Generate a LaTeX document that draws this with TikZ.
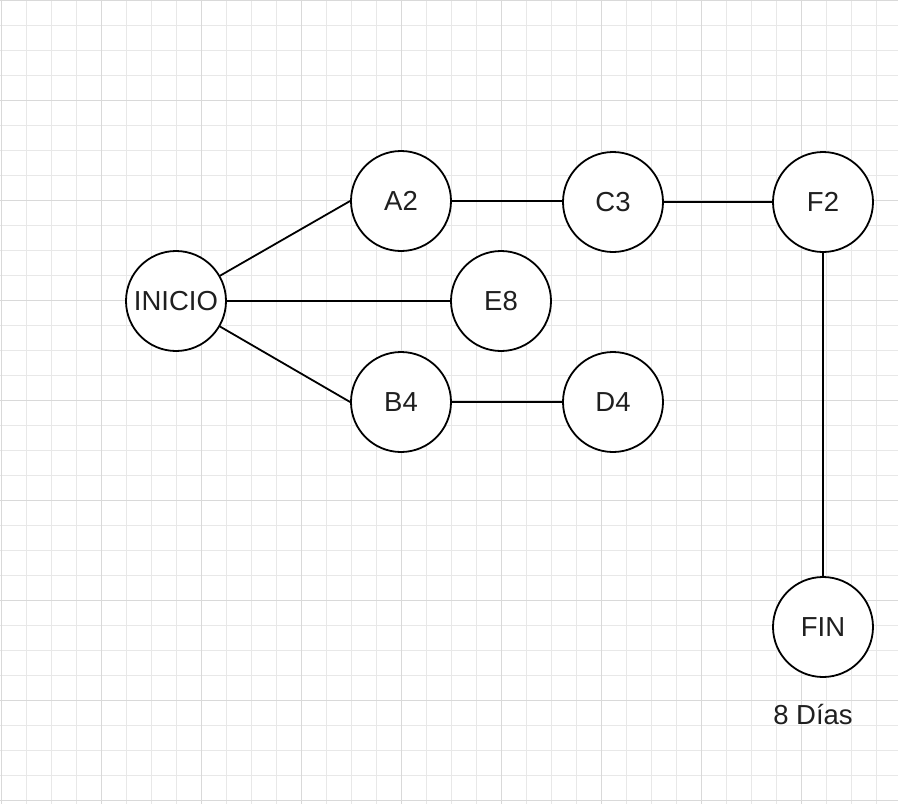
\documentclass[tikz,border=0pt]{standalone}
\usepackage{fontspec}
\setmainfont{Liberation Sans}
\begin{document}
\begin{tikzpicture}[x=1pt,y=-1pt,
  minorgrid/.style={draw=black!9,line width=0.9pt},
  majorgrid/.style={draw=black!15,line width=0.9pt},
  event/.style={circle,draw=black,line width=1.8pt,fill=white,minimum size=100pt,inner sep=0pt,
    font=\fontsize{27.5}{32}\selectfont,text=black!88},
  link/.style={draw=black,line width=1.8pt}]
  \useasboundingbox (0,0) rectangle (898,804);
  \fill[white] (0,0) rectangle (898,804);
  % background grid: minor every 25, major every 100
  \foreach \k in {0,...,35} {
    \draw[minorgrid] ({1.7+25*\k},0) -- ({1.7+25*\k},804);
  }
  \foreach \k in {0,...,32} {
    \draw[minorgrid] (0,{25*\k}) -- (898,{25*\k});
  }
  \foreach \k in {0,...,8} {
    \draw[majorgrid] ({1.7+100*\k},0) -- ({1.7+100*\k},804);
    \draw[majorgrid] (0,{100*\k}) -- (898,{100*\k});
  }
  % activity nodes
  \node[event] (inicio) at (176,301) {INICIO};
  \node[event] (a2) at (401,201) {A2};
  \node[event] (c3) at (613,202) {C3};
  \node[event] (f2) at (823,202) {F2};
  \node[event] (e8) at (501,301) {E8};
  \node[event] (b4) at (401,402) {B4};
  \node[event] (d4) at (613,402) {D4};
  \node[event] (fin) at (823,627) {FIN};
  \node[font=\fontsize{27.5}{32}\selectfont,text=black!88] (dias) at (813,715) {8 Días};
  % connections
  \draw[link] (inicio) -- (a2.west);
  \draw[link] (inicio.east) -- (e8.west);
  \draw[link] (inicio) -- (b4.west);
  \draw[link] (a2.east) -- (a2.east -| c3.west);
  \draw[link] (c3.east) -- (f2.west);
  \draw[link] (b4.east) -- (d4.west);
  \draw[link] (f2.south) -- (fin.north);
\end{tikzpicture}
\end{document}
